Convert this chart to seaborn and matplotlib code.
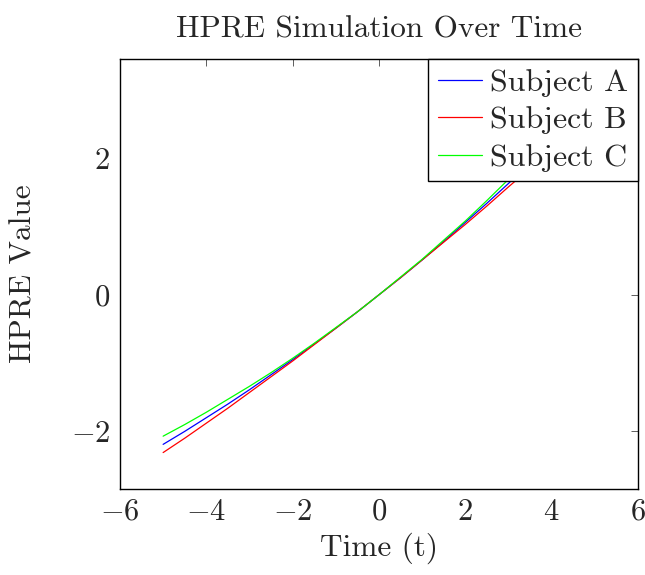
import numpy as np
import pandas as pd
import matplotlib
matplotlib.use('Agg')
import matplotlib.pyplot as plt
import seaborn as sns

# values
t = [-5.0, -4.5, -4.0, -3.5, -3.0, -2.5, -2.0, -1.5, -1.0, -0.5, 0.0,
     0.5, 1.0, 1.5, 2.0, 2.5, 3.0, 3.5, 4.0, 4.5, 5.0]
subject_a = [-2.19, -2.00, -1.80, -1.60, -1.39, -1.17, -0.95, -0.72, -0.49, -0.25, 0.00,
             0.25, 0.51, 0.78, 1.06, 1.34, 1.63, 1.93, 2.23, 2.55, 2.87]
subject_b = [-2.31, -2.10, -1.88, -1.66, -1.43, -1.20, -0.97, -0.73, -0.49, -0.25, 0.00,
             0.25, 0.51, 0.77, 1.03, 1.30, 1.58, 1.85, 2.13, 2.42, 2.71]
subject_c = [-2.07, -1.90, -1.72, -1.53, -1.34, -1.14, -0.93, -0.71, -0.48, -0.25, 0.00,
             0.26, 0.52, 0.80, 1.08, 1.38, 1.69, 2.01, 2.35, 2.70, 3.06]
labels = ['Subject A', 'Subject B', 'Subject C']
colors = ['#0000ff', '#ff0000', '#00ff00']

df = pd.DataFrame({
    'Time (t)': t * 3,
    'HPRE Value': subject_a + subject_b + subject_c,
    'subject': [labels[0]] * len(t) + [labels[1]] * len(t) + [labels[2]] * len(t),
})

sns.set_theme(style='white')
plt.rcParams['font.family'] = 'serif'
plt.rcParams['font.serif'] = ['cmr10']
plt.rcParams['mathtext.fontset'] = 'cm'
plt.rcParams['axes.formatter.use_mathtext'] = True

fig = plt.figure(figsize=(6.45, 5.75), dpi=100)
ax = fig.add_axes([0.186, 0.150, 0.803, 0.747])

sns.lineplot(data=df, x='Time (t)', y='HPRE Value', hue='subject',
             palette=colors, linewidth=0.9, ax=ax)

ax.set_xlim(-6, 6)
ax.set_ylim(-2.84, 3.45)
ax.set_xticks([-6, -4, -2, 0, 2, 4, 6])
ax.set_yticks([-2, 0, 2])
ax.tick_params(direction='in', length=5, width=0.6, color='#444444',
               top=True, right=True, labelsize=22, pad=7)
for s in ax.spines.values():
    s.set_color('black')
    s.set_linewidth(1.0)

ax.set_title('HPRE Simulation Over Time', fontsize=22.5, pad=16)
ax.set_xlabel('Time (t)', fontsize=22.5, labelpad=5)
ax.set_ylabel('HPRE Value', fontsize=22.5, labelpad=24)

leg = ax.legend(loc='upper right', borderaxespad=0, fontsize=23, frameon=True,
                fancybox=False, framealpha=1, edgecolor='black',
                handlelength=1.4, handletextpad=0.25, labelspacing=0.28,
                borderpad=0.3)
leg.get_frame().set_linewidth(1.0)

plt.savefig('out.png', dpi=100)
